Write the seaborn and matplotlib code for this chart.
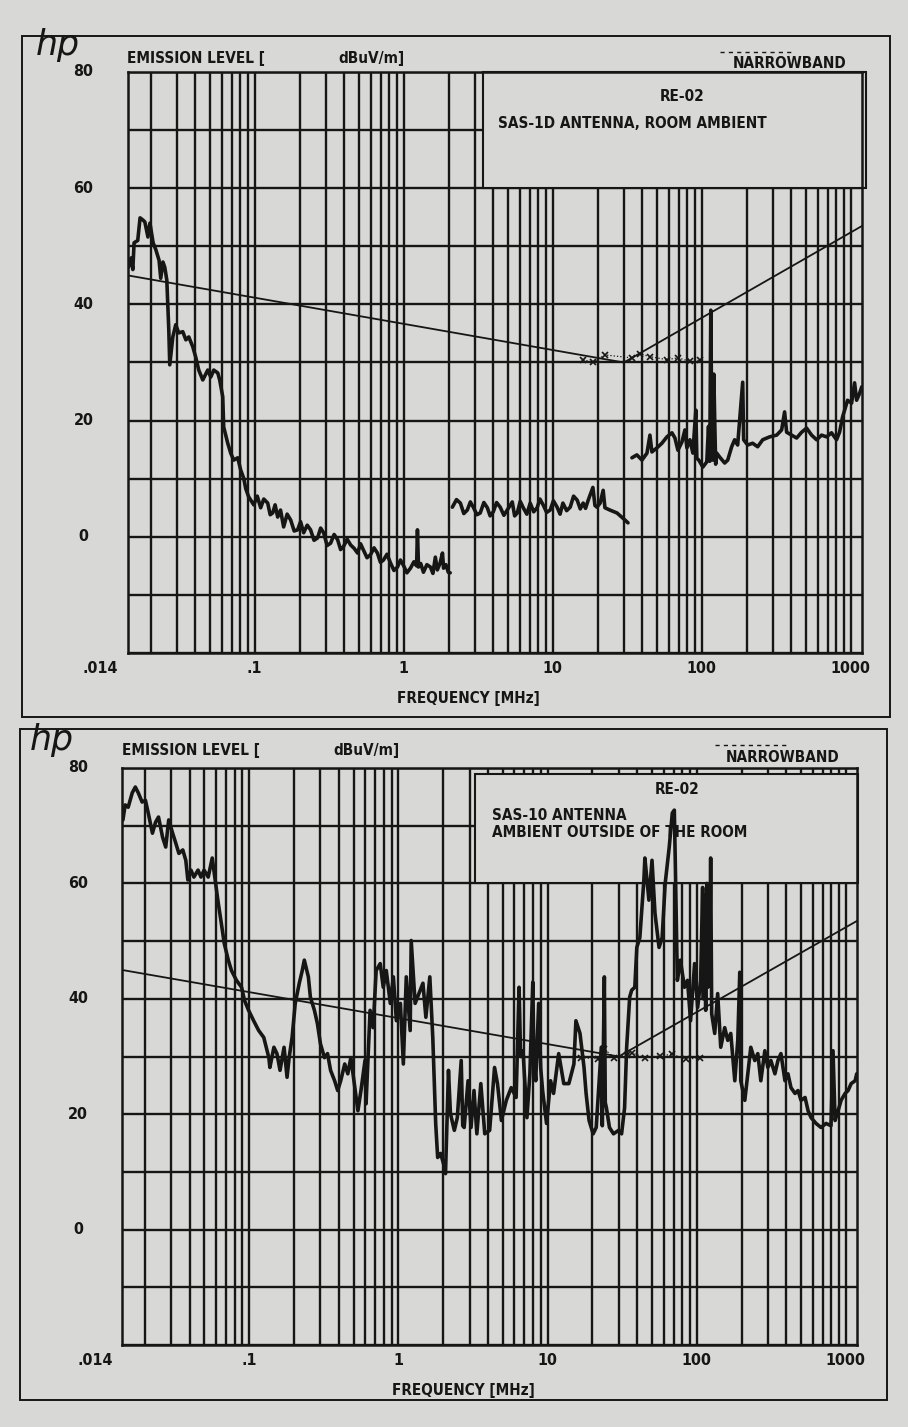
import matplotlib
matplotlib.use("Agg")
import matplotlib.pyplot as plt
from matplotlib.patches import Rectangle
from matplotlib.transforms import blended_transform_factory
import seaborn as sns

# ---- data (frequency in MHz, level in dBuV/m) ----

# RE-02 narrowband limit (same on both sheets)
LIMIT_MHZ = [0.014, 30.0, 1190.0]
LIMIT_DB = [45.0, 30.0, 53.5]

# top sheet: room ambient, three sweep bands
TOP_A_MHZ = [0.0142, 0.0148, 0.0152, 0.0155, 0.0164, 0.0170, 0.0178, 0.0183, 0.0192, 0.0198,
             0.0208, 0.0217, 0.0228, 0.0234, 0.0242, 0.0249, 0.0257, 0.0265, 0.0269, 0.0282,
             0.0295, 0.0309, 0.0329, 0.0345, 0.0361, 0.0384, 0.0402, 0.0421, 0.0448, 0.0484,
             0.0507, 0.0531, 0.0565, 0.0582, 0.0610, 0.0619, 0.0659, 0.0690, 0.0723, 0.0769,
             0.0805, 0.0843, 0.087, 0.091, 0.0985, 0.104, 0.1096, 0.115, 0.1222, 0.127,
             0.132, 0.137, 0.1426, 0.149, 0.1563, 0.165, 0.1742, 0.184, 0.194, 0.203,
             0.213, 0.225, 0.237, 0.250, 0.264, 0.277, 0.290, 0.306, 0.323, 0.341,
             0.360, 0.377, 0.394, 0.417, 0.440, 0.465, 0.490, 0.513, 0.537, 0.567,
             0.598, 0.632, 0.666, 0.698, 0.731, 0.772, 0.815, 0.860, 0.908, 0.950,
             0.995, 1.05, 1.11, 1.17, 1.22, 1.236, 1.256, 1.30, 1.356, 1.43,
             1.51, 1.57, 1.63, 1.68, 1.75, 1.82, 1.85, 1.92, 1.99, 2.05]
TOP_A_DB = [46.4, 48.0, 46.0, 50.6, 51.0, 54.9, 54.5, 54.2, 51.6, 54.0,
            50.6, 49.4, 47.6, 44.5, 47.3, 46.4, 44.2, 35.6, 29.6, 34.4,
            36.5, 35.1, 35.3, 33.9, 34.4, 32.7, 30.9, 28.7, 27.0, 28.7,
            27.5, 28.7, 28.2, 27.0, 24.1, 18.9, 16.1, 14.4, 13.2, 13.6,
            11.5, 10.1, 8.3, 6.9, 5.5, 7.0, 5.0, 6.5, 5.8, 3.8,
            4.1, 5.5, 3.4, 4.6, 1.7, 3.9, 2.9, 1.0, 1.2, 2.6,
            0.7, 2.0, 1.2, -0.6, -0.2, 1.5, 0.7, -1.5, -1.1, 0.4,
            -0.5, -2.2, -1.7, -0.4, -1.4, -2.0, -2.8, -1.2, -2.3, -3.6,
            -3.1, -1.9, -2.8, -4.4, -4.0, -3.0, -4.5, -5.8, -5.2, -4.0,
            -4.9, -6.2, -5.4, -4.3, -5.0, 1.2, -5.2, -4.6, -6.1, -4.8,
            -5.2, -6.3, -3.5, -5.7, -4.6, -2.8, -5.4, -4.8, -6.1, -6.2]

TOP_B_MHZ = [2.12, 2.26, 2.40, 2.53, 2.67, 2.80, 2.93, 3.10, 3.26, 3.45,
             3.64, 3.80, 3.99, 4.20, 4.44, 4.70, 4.95, 5.35, 5.55, 5.78,
             6.05, 6.34, 6.70, 7.06, 7.45, 7.86, 8.20, 8.62, 9.10, 9.61,
             10.1, 10.7, 11.2, 11.7, 12.4, 13.1, 13.8, 14.6, 15.3, 16.0,
             16.6, 17.3, 18.6, 19.2, 19.8, 20.8, 21.8, 22.4, 24.2, 27.0,
             29.6, 32.0]
TOP_B_DB = [5.1, 6.4, 5.8, 4.0, 4.6, 6.0, 5.1, 3.8, 4.1, 5.9,
            5.0, 3.6, 4.3, 5.9, 5.1, 3.7, 4.6, 6.0, 3.6, 4.1,
            6.1, 5.0, 3.9, 5.8, 4.3, 5.0, 6.5, 5.5, 4.2, 4.6,
            6.2, 5.1, 3.9, 5.8, 4.5, 5.1, 7.0, 6.3, 4.8, 5.8,
            4.9, 6.3, 8.5, 5.4, 5.1, 5.8, 8.0, 5.0, 4.6, 4.1,
            3.2, 2.4]

TOP_C_MHZ = [34.0, 36.7, 39.7, 42.9, 44.9, 46.3, 50.0, 54.0, 58.4, 63.1,
             66.1, 69.2, 73.6, 77.1, 79.5, 83.3, 87.2, 89.5, 91.3, 92.7,
             95.6, 101.7, 108.1, 111.0, 113.2, 115.0, 116.8, 118.6, 120.5, 122.3,
             124.0, 126.1, 132.1, 142.6, 149.4, 158.8, 166.3, 174.2, 188.3, 191.1,
             203.3, 219.6, 237.3, 256.4, 285.6, 318.3, 343.7, 359.8, 371.3, 401.2,
             433.3, 468.1, 505.5, 546.0, 590.0, 637.0, 688.0, 743.0, 803.0, 841.0,
             881.0, 952.0, 1013.0, 1061.0, 1095.0, 1147.0, 1185.0]
TOP_C_DB = [13.6, 14.1, 13.2, 14.4, 17.5, 14.6, 15.3, 16.1, 17.2, 17.9,
            17.0, 14.9, 16.3, 18.4, 15.3, 16.7, 14.4, 18.7, 21.8, 13.5,
            13.2, 12.0, 12.9, 19.0, 13.0, 39.0, 18.9, 13.2, 28.0, 19.6,
            12.5, 14.4, 13.7, 12.7, 13.2, 15.5, 16.7, 15.8, 26.6, 16.7,
            15.8, 16.1, 15.5, 16.7, 17.2, 17.5, 18.4, 21.5, 18.0, 17.5,
            17.0, 18.0, 18.7, 17.5, 16.7, 17.5, 17.2, 17.9, 16.7, 18.0,
            20.6, 23.5, 23.0, 26.5, 23.5, 24.7, 25.8]

TOP_NB_MHZ = [16.0, 18.5, 22.4, 34.0, 38.5, 44.9, 58.4, 69.2, 83.3, 97.0]
TOP_NB_DB = [30.5, 30.0, 31.3, 30.8, 31.5, 31.0, 30.5, 30.8, 30.2, 30.4]

# bottom sheet: ambient outside of the room, one continuous sweep
BOT_MHZ = [0.0142, 0.0147, 0.0154, 0.0164, 0.0172, 0.0180, 0.0191, 0.0201, 0.0210, 0.0224,
           0.0235, 0.0246, 0.0262, 0.0275, 0.0288, 0.0306, 0.0321, 0.0337, 0.0358, 0.0375,
           0.0387, 0.0406, 0.0425, 0.0453, 0.0474, 0.0497, 0.0530, 0.0564, 0.0590, 0.0619,
           0.0649, 0.0679, 0.0723, 0.0759, 0.0820, 0.0887, 0.0929, 0.0989, 0.1069, 0.1156,
           0.1250, 0.1352, 0.1374, 0.1462, 0.1532, 0.1607, 0.1710, 0.1791, 0.1849, 0.1936,
           0.2032, 0.2163, 0.2265, 0.2338, 0.2489, 0.2567, 0.2733, 0.2862, 0.2999, 0.3192,
           0.3347, 0.3508, 0.3733, 0.3914, 0.4101, 0.4365, 0.4577, 0.4797, 0.5105, 0.5350,
           0.5607, 0.5968, 0.6066, 0.6456, 0.6766, 0.7091, 0.7548, 0.7910, 0.8290, 0.8824,
           0.9249, 0.9693, 1.031, 1.079, 1.129, 1.199, 1.218, 1.294, 1.460, 1.528,
           1.624, 1.700, 1.778, 1.833, 1.919, 2.038, 2.069, 2.166, 2.233, 2.371,
           2.483, 2.637, 2.700, 2.760, 2.931, 3.069, 3.213, 3.358, 3.570, 3.794,
           4.091, 4.413, 4.617, 4.906, 5.292, 5.709, 6.158, 6.443, 6.600, 6.847,
           7.277, 7.614, 7.966, 8.100, 8.335, 8.721, 9.000, 9.268, 9.849, 10.48,
           10.98, 11.88, 12.85, 13.90, 15.03, 15.50, 16.51, 17.57, 18.14, 19.00,
           20.22, 21.21, 22.94, 23.30, 24.05, 24.40, 24.83, 26.02, 27.70, 29.96,
           31.38, 32.87, 33.94, 35.56, 36.70, 38.49, 39.70, 41.60, 44.28, 44.97,
           47.86, 50.20, 52.57, 55.96, 58.70, 61.53, 65.50, 68.69, 70.85, 71.94,
           74.25, 77.84, 82.85, 86.86, 91.05, 96.91, 101.6, 106.4, 109.7, 111.0,
           113.0, 115.0, 117.0, 119.0, 121.0, 122.3, 124.2, 126.2, 132.2, 138.4,
           145.1, 154.3, 161.7, 169.4, 180.3, 188.8, 194.7, 197.7, 210.4, 220.3,
           230.8, 245.5, 257.2, 269.5, 286.8, 300.4, 314.8, 335.0, 350.9, 367.6,
           391.2, 409.8, 429.3, 456.8, 478.6, 501.4, 533.6, 559.0, 585.6, 632.3,
           682.9, 737.5, 796.5, 821.7, 848.2, 888.6, 930.8, 990.4, 1037.0, 1087.0,
           1156.0, 1185.0]
BOT_DB = [71.0, 73.6, 73.2, 75.7, 76.7, 75.7, 74.1, 74.4, 72.2, 68.7,
          70.6, 71.5, 68.0, 66.3, 71.0, 68.7, 67.0, 65.2, 65.8, 64.0,
          60.6, 62.3, 61.1, 62.3, 61.1, 62.3, 61.1, 64.4, 60.6, 56.6,
          53.1, 49.6, 46.7, 44.9, 43.2, 42.0, 39.7, 38.0, 36.2, 34.5,
          33.3, 29.8, 28.1, 31.6, 30.5, 27.6, 31.6, 26.4, 29.8, 33.3,
          39.2, 42.7, 44.9, 46.7, 43.8, 40.3, 38.0, 35.7, 32.2, 29.8,
          30.5, 27.6, 25.8, 24.1, 25.8, 28.7, 27.0, 29.8, 24.6, 20.6,
          24.1, 29.3, 21.8, 38.0, 35.0, 44.9, 46.1, 42.0, 44.9, 39.2,
          43.8, 36.2, 39.2, 28.7, 43.8, 34.5, 50.1, 39.2, 42.7, 36.8,
          43.8, 33.3, 18.4, 12.5, 13.2, 10.8, 9.7, 27.6, 20.1, 17.2,
          19.4, 29.3, 18.0, 17.7, 25.8, 17.7, 24.1, 16.6, 25.3, 16.6,
          17.2, 28.1, 25.3, 18.9, 22.4, 24.6, 22.9, 42.0, 30.0, 31.0,
          19.4, 27.0, 42.9, 30.0, 25.8, 39.2, 28.0, 24.1, 18.4, 25.8,
          23.6, 30.5, 25.3, 25.3, 28.7, 36.2, 34.0, 28.1, 23.6, 18.9,
          16.6, 17.7, 31.6, 18.0, 43.8, 22.0, 21.1, 17.7, 16.6, 17.2,
          16.6, 21.1, 31.6, 40.3, 41.5, 42.0, 48.9, 50.6, 60.6, 64.4,
          57.1, 64.0, 54.8, 48.9, 50.6, 60.0, 66.3, 72.2, 72.7, 63.5,
          43.2, 46.7, 42.0, 43.2, 36.2, 46.1, 38.5, 43.2, 59.3, 40.0,
          58.0, 38.0, 60.0, 42.0, 59.0, 45.0, 64.4, 37.4, 34.0, 40.9,
          31.6, 35.0, 32.8, 34.0, 25.8, 32.8, 44.6, 25.8, 22.4, 27.0,
          31.6, 29.3, 30.5, 25.8, 31.0, 28.1, 29.3, 27.0, 29.3, 30.5,
          25.8, 27.0, 24.6, 23.6, 24.1, 22.4, 22.9, 20.6, 19.4, 18.4,
          17.7, 18.4, 18.0, 31.0, 18.9, 20.6, 22.4, 23.6, 24.1, 25.3,
          25.8, 27.0]

BOT_NB_MHZ = [16.8, 21.9, 24.1, 27.7, 33.9, 37.0, 45.0, 56.9, 68.7, 84.5, 104.7]
BOT_NB_DB = [29.8, 29.6, 31.3, 29.8, 30.3, 30.6, 29.8, 30.1, 30.4, 29.5, 29.8]

# grid lines of the log paper: 2..9 in every decade plus the decades
GRID_MHZ = [k * 10.0 ** e for e in range(-2, 4) for k in range(1, 10)
            if 0.0145 < k * 10.0 ** e < 1150]
XTICK_MHZ = [0.1, 1, 10, 100, 1000]
XTICK_TXT = [".1", "1", "10", "100", "1000"]
YTICK_DB = [80, 60, 40, 20, 0]

W, H = 908, 1427
PAPER = "#d8d8d6"
INK = "#161616"
FS = 11

sns.set_theme(style="white")
plt.rcParams["font.family"] = ["DejaVu Sans"]
plt.rcParams["font.stretch"] = "condensed"
plt.rcParams["font.weight"] = "bold"

fig = plt.figure(figsize=(W / 100, H / 100), dpi=100, facecolor=PAPER)


def fx(px):
    return px / W


def fy(py):
    return 1 - py / H


def ftext(px, py, s, **kw):
    kw.setdefault("fontsize", FS)
    kw.setdefault("color", INK)
    kw.setdefault("va", "center")
    fig.text(fx(px), fy(py), s, **kw)


def frame(x0, y0, x1, y1, lw=1.4):
    fig.add_artist(Rectangle((fx(x0), fy(y1)), fx(x1) - fx(x0), fy(y0) - fy(y1),
                             fill=False, ec=INK, lw=lw, transform=fig.transFigure))


def make_axes(left, top, right, bottom):
    ax = fig.add_axes([fx(left), fy(bottom), fx(right) - fx(left), fy(top) - fy(bottom)])
    ax.set_facecolor(PAPER)
    ax.set_xscale("log")
    ax.set_xlim(0.014, 1190)
    ax.set_ylim(-20, 80)
    ax.set_xticks(GRID_MHZ)
    ax.set_xticks([], minor=True)
    ax.set_yticks(range(-20, 81, 10))
    ax.set_xticklabels([])
    ax.set_yticklabels([])
    ax.tick_params(length=0)
    ax.grid(True, color=INK, lw=1.7)
    for sp in ax.spines.values():
        sp.set_color(INK)
        sp.set_linewidth(1.8)
    ax.set_xlabel("")
    ax.set_ylabel("")
    # tick labels like the plotter wrote them
    tx = blended_transform_factory(ax.transData, ax.transAxes)
    for f, s in zip(XTICK_MHZ, XTICK_TXT):
        ax.text(f, -0.027, s, transform=tx, ha="center", va="center", fontsize=FS + 0.5,
                color=INK)
    ax.text(-0.037, -0.027, ".014", transform=ax.transAxes, ha="center", va="center",
            fontsize=FS + 0.5, color=INK)
    ty = blended_transform_factory(ax.transAxes, ax.transData)
    for v in YTICK_DB:
        ax.text(-0.06, v, str(v), transform=ty, ha="center", va="center", fontsize=FS + 0.5,
                color=INK)
    return ax


def limit_and_marks(ax, nb_f, nb_db):
    sns.lineplot(x=LIMIT_MHZ, y=LIMIT_DB, ax=ax, color=INK, lw=1.3, estimator=None, sort=False,
                 zorder=3)
    sns.lineplot(x=nb_f, y=nb_db, ax=ax, color=INK, lw=0.9, linestyle=":", marker="x",
                 markersize=4, markeredgewidth=1.2, markeredgecolor=INK, estimator=None,
                 sort=False, zorder=3)


def info_box(ax, x0, x1, y1):
    ax.add_patch(Rectangle((x0, 0.8), x1 - x0, y1 - 0.8, transform=ax.transAxes,
                           fc=PAPER, ec=INK, lw=1.5, zorder=2, clip_on=False))


# ---------------- top sheet ----------------
frame(22, 36, 890, 717)
ax1 = make_axes(127.5, 72, 862, 653)
info_box(ax1, 0.484, 1.006, 1.0)
ax1.text(0.755, 0.957, "RE-02", transform=ax1.transAxes, ha="center", va="center",
         fontsize=FS, color=INK, zorder=4)
ax1.text(0.505, 0.912, "SAS-1D ANTENNA, ROOM AMBIENT", transform=ax1.transAxes,
         ha="left", va="center", fontsize=FS, color=INK, zorder=4)
limit_and_marks(ax1, TOP_NB_MHZ, TOP_NB_DB)
for fr, lv in [(TOP_A_MHZ, TOP_A_DB), (TOP_B_MHZ, TOP_B_DB), (TOP_C_MHZ, TOP_C_DB)]:
    sns.lineplot(x=fr, y=lv, ax=ax1, color=INK, lw=2.6, estimator=None, sort=False, zorder=5)

ftext(58, 45, "hp", fontsize=25, style="italic", weight="normal", stretch="normal",
      family="DejaVu Sans", ha="center")
ftext(127, 58, "EMISSION LEVEL [", ha="left")
ftext(338, 58, "dBuV/m]", ha="left")
ftext(790, 64, "NARROWBAND", ha="center")
fig.add_artist(plt.Line2D([fx(720), fx(793)], [fy(52), fy(52)], color=INK, lw=1.0,
                          linestyle=(0, (3, 3)), transform=fig.transFigure))
ftext(468, 698, "FREQUENCY [MHz]", ha="center")

# ---------------- bottom sheet ----------------
frame(20, 729, 887, 1400)
ax2 = make_axes(122, 768, 857, 1345)
info_box(ax2, 0.480, 1.002, 0.99)
ax2.text(0.755, 0.962, "RE-02", transform=ax2.transAxes, ha="center", va="center",
         fontsize=FS, color=INK, zorder=4)
ax2.text(0.504, 0.918, "SAS-10 ANTENNA", transform=ax2.transAxes,
         ha="left", va="center", fontsize=FS, color=INK, zorder=4)
ax2.text(0.504, 0.888, "AMBIENT OUTSIDE OF THE ROOM", transform=ax2.transAxes,
         ha="left", va="center", fontsize=FS, color=INK, zorder=4)
limit_and_marks(ax2, BOT_NB_MHZ, BOT_NB_DB)
sns.lineplot(x=BOT_MHZ, y=BOT_DB, ax=ax2, color=INK, lw=2.6, estimator=None, sort=False,
             zorder=5)

ftext(52, 740, "hp", fontsize=25, style="italic", weight="normal", stretch="normal",
      family="DejaVu Sans", ha="center")
ftext(122, 751, "EMISSION LEVEL [", ha="left")
ftext(333, 751, "dBuV/m]", ha="left")
ftext(783, 758, "NARROWBAND", ha="center")
fig.add_artist(plt.Line2D([fx(715), fx(790)], [fy(745), fy(745)], color=INK, lw=1.0,
                          linestyle=(0, (3, 3)), transform=fig.transFigure))
ftext(463, 1390, "FREQUENCY [MHz]", ha="center")

fig.savefig("out.png", dpi=100, facecolor=PAPER)
